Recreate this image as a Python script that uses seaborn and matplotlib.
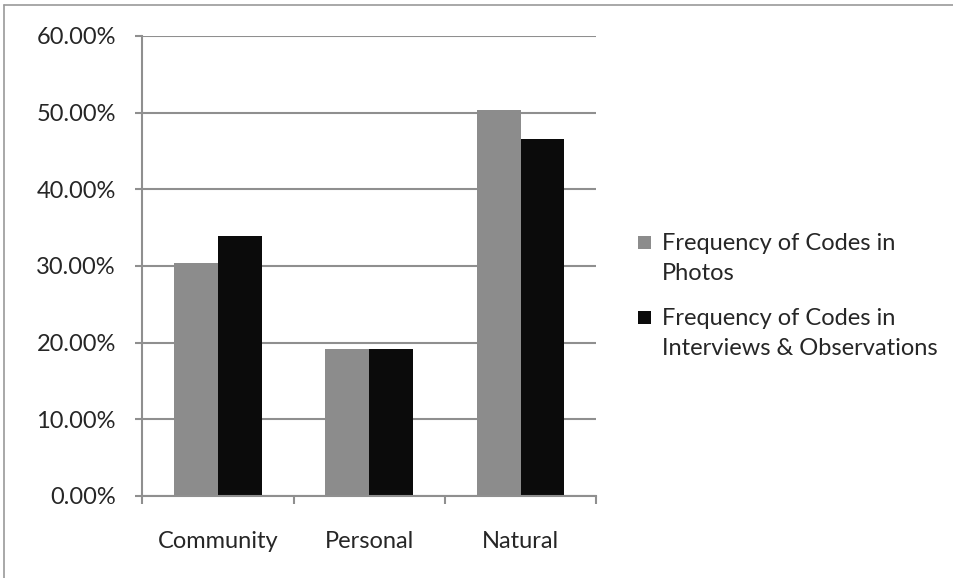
import pandas as pd
import seaborn as sns
import matplotlib.pyplot as plt
from matplotlib.ticker import PercentFormatter
from matplotlib.lines import Line2D
from matplotlib.patches import Rectangle
from matplotlib.legend_handler import HandlerPatch

# data
categories = ['Community', 'Personal', 'Natural']
photos = [30.4, 19.1, 50.3]
interviews = [33.9, 19.1, 46.6]
series_names = ['Frequency of Codes in\nPhotos',
                'Frequency of Codes in\nInterviews & Observations']

df = pd.DataFrame({
    'category': categories * 2,
    'value': photos + interviews,
    'series': [series_names[0]] * 3 + [series_names[1]] * 3,
})

sns.set_style('white')
plt.rcParams['font.family'] = ['Lato', 'DejaVu Sans']
FS = 17

fig = plt.figure(figsize=(9.54, 5.78), dpi=100)
ax = fig.add_axes([0.149, 0.142, 0.476, 0.796])

sns.barplot(data=df, x='category', y='value', hue='series',
            palette=['#8c8c8c', '#0b0b0b'], width=0.58, gap=0,
            saturation=1, linewidth=0, edgecolor='none', ax=ax, legend=True)

ax.set_ylim(0, 60)
ax.set_xlim(-0.5, 2.5)
ax.set_yticks(range(0, 61, 10))
ax.yaxis.set_major_formatter(PercentFormatter(decimals=2))
ax.set_xlabel('')
ax.set_ylabel('')
ax.grid(axis='y', color='#8f8f8f', linewidth=1.5)
ax.set_axisbelow(True)

for s in ['top', 'right']:
    ax.spines[s].set_visible(False)
for s in ['left', 'bottom']:
    ax.spines[s].set_color('#8f8f8f')
    ax.spines[s].set_linewidth(1.5)

ax.tick_params(axis='y', left=True, length=5, width=1.5, color='#8f8f8f',
               labelsize=FS, pad=14)
ax.tick_params(axis='x', which='major', length=0, labelsize=FS, pad=25)
ax.set_xticks([-0.5, 0.5, 1.5, 2.5], minor=True)
ax.tick_params(axis='x', which='minor', bottom=True, length=6, width=1.5,
               color='#8f8f8f')


# square legend marker aligned with the first text line
def top_square(legend, orig_handle, xdescent, ydescent, width, height, fontsize):
    return Rectangle((-xdescent, -ydescent + 12), width, width)


handles, labels = ax.get_legend_handles_labels()
leg = ax.legend(handles, labels, loc='center left', bbox_to_anchor=(0.647, 0.488),
                bbox_transform=fig.transFigure, frameon=False, fontsize=FS,
                handlelength=0.55, handleheight=0.55, handletextpad=0.45,
                labelspacing=1.0,
                handler_map={h: HandlerPatch(patch_func=top_square) for h in handles})
for t in leg.get_texts():
    t.set_linespacing(1.55)

# outer chart frame (top and left edges visible in the reference)
fig.add_artist(Line2D([0.004, 1], [0.991, 0.991], transform=fig.transFigure,
                      color='#9a9a9a', linewidth=1.2))
fig.add_artist(Line2D([0.004, 0.004], [0, 0.991], transform=fig.transFigure,
                      color='#9a9a9a', linewidth=1.2))

fig.savefig('out.png', dpi=100, facecolor='white')
